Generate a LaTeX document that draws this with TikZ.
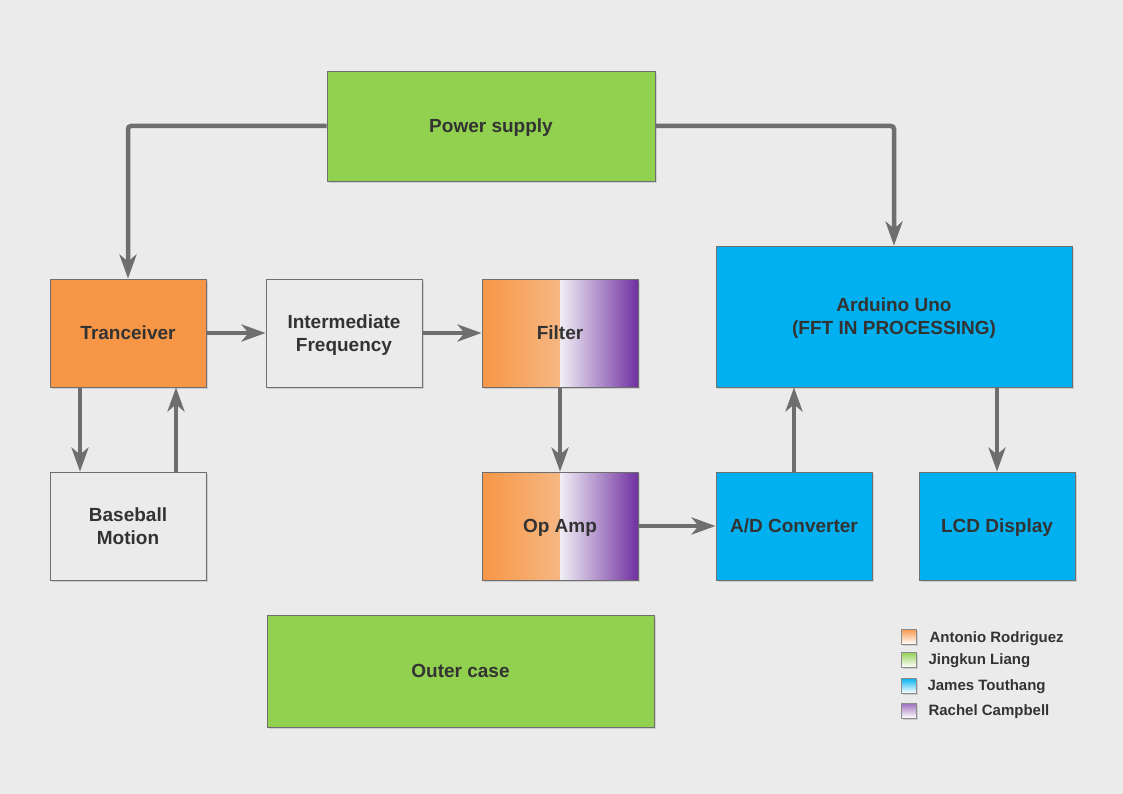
\documentclass[tikz,border=0pt]{standalone}
\usepackage{fontspec}
\setmainfont{Liberation Sans}
\usetikzlibrary{arrows.meta,shadows}
\definecolor{bgcol}{HTML}{EBEBEB}
\definecolor{linecol}{HTML}{6E6E6E}
\definecolor{txtcol}{HTML}{333333}
\definecolor{greencol}{HTML}{92D050}
\definecolor{orangecol}{HTML}{F79646}
\definecolor{bluecol}{HTML}{00B0F0}
\definecolor{purplecol}{HTML}{7030A0}
\definecolor{peachcol}{HTML}{F5D8BE}
\definecolor{lilaccol}{HTML}{F0EEF5}
\tikzset{
  blk/.style={draw=linecol, line width=0.9pt, rectangle, inner sep=0pt,
    text=txtcol, font=\bfseries\fontsize{19}{23}\selectfont, align=center, text depth=-4pt,
    drop shadow={shadow xshift=2pt, shadow yshift=-2pt, fill=black, opacity=.12}},
  duo/.style={blk, path picture={
    \shade[left color=orangecol, right color=peachcol]
      (path picture bounding box.south west) rectangle (path picture bounding box.north);
    \shade[left color=lilaccol, right color=purplecol]
      (path picture bounding box.south) rectangle (path picture bounding box.north east);}},
  key/.style={draw=linecol!80, line width=0.8pt, minimum size=15pt, inner sep=0pt,
    drop shadow={shadow xshift=1.5pt, shadow yshift=-1.5pt, fill=black, opacity=.12}},
  keytxt/.style={anchor=west, text=txtcol, font=\bfseries\fontsize{15}{16}\selectfont},
  link/.style={draw=linecol, line width=4.5pt, rounded corners=3pt,
    -{Stealth[length=24pt, width=17pt, inset=7pt]}}
}
\begin{document}
\begin{tikzpicture}[x=1pt, y=-1pt]
  \useasboundingbox[fill=bgcol] (0,0) rectangle (1123,794);
  % blocks
  \node[blk, fill=greencol, minimum width=328pt, minimum height=110pt] (power) at (491,126){Power supply};
  \node[blk, fill=orangecol, minimum width=156pt, minimum height=108pt] (trx) at (128,333){Tranceiver};
  \node[blk, fill=bgcol, minimum width=156pt, minimum height=108pt] (ifreq) at (344,333){Intermediate\\Frequency};
  \node[duo, minimum width=156pt, minimum height=108pt] (filter) at (560,333){Filter};
  \node[blk, fill=bluecol, minimum width=356pt, minimum height=141pt] (uno) at (894,316.5){Arduino Uno\\(FFT IN PROCESSING)};
  \node[blk, fill=bgcol, minimum width=156pt, minimum height=108pt] (ball) at (128,526){Baseball\\Motion};
  \node[duo, minimum width=156pt, minimum height=108pt] (opamp) at (560,526){Op Amp};
  \node[blk, fill=bluecol, minimum width=156pt, minimum height=108pt] (adc) at (794,526){A/D Converter};
  \node[blk, fill=bluecol, minimum width=156pt, minimum height=108pt] (lcd) at (997,526){LCD Display};
  \node[blk, fill=greencol, minimum width=387pt, minimum height=112pt] (case) at (460.5,671){Outer case};
  % connectors
  \draw[link] (power.west) -| (trx.north);
  \draw[link] (power.east) -| (uno.north);
  \draw[link] (trx.east) -- (ifreq.west);
  \draw[link] (ifreq.east) -- (filter.west);
  \draw[link] (filter.south) -- (opamp.north);
  \draw[link] (opamp.east) -- (adc.west);
  \draw[link] (adc.north) -- (adc.north |- uno.south);
  \draw[link] (lcd.north |- uno.south) -- (lcd.north);
  \draw[link] ([xshift=-48pt]trx.south) -- ([xshift=-48pt]ball.north);
  \draw[link] ([xshift=48pt]ball.north) -- ([xshift=48pt]trx.south);
  % legend
  \node[key, top color=orangecol, bottom color=white] (k1) at (908.5,636.5){};
  \node[key, top color=greencol, bottom color=white] (k2) at (908.5,659.5){};
  \node[key, top color=bluecol, bottom color=white] (k3) at (908.5,685.5){};
  \node[key, top color=purplecol!70, bottom color=white] (k4) at (908.5,710.5){};
  \node[keytxt] (t1) at (926,638.5){Antonio Rodriguez};
  \node[keytxt] (t2) at (925,660.5){Jingkun Liang};
  \node[keytxt] (t3) at (924,686.5){James Touthang};
  \node[keytxt] (t4) at (925,711.5){Rachel Campbell};
\end{tikzpicture}
\end{document}
